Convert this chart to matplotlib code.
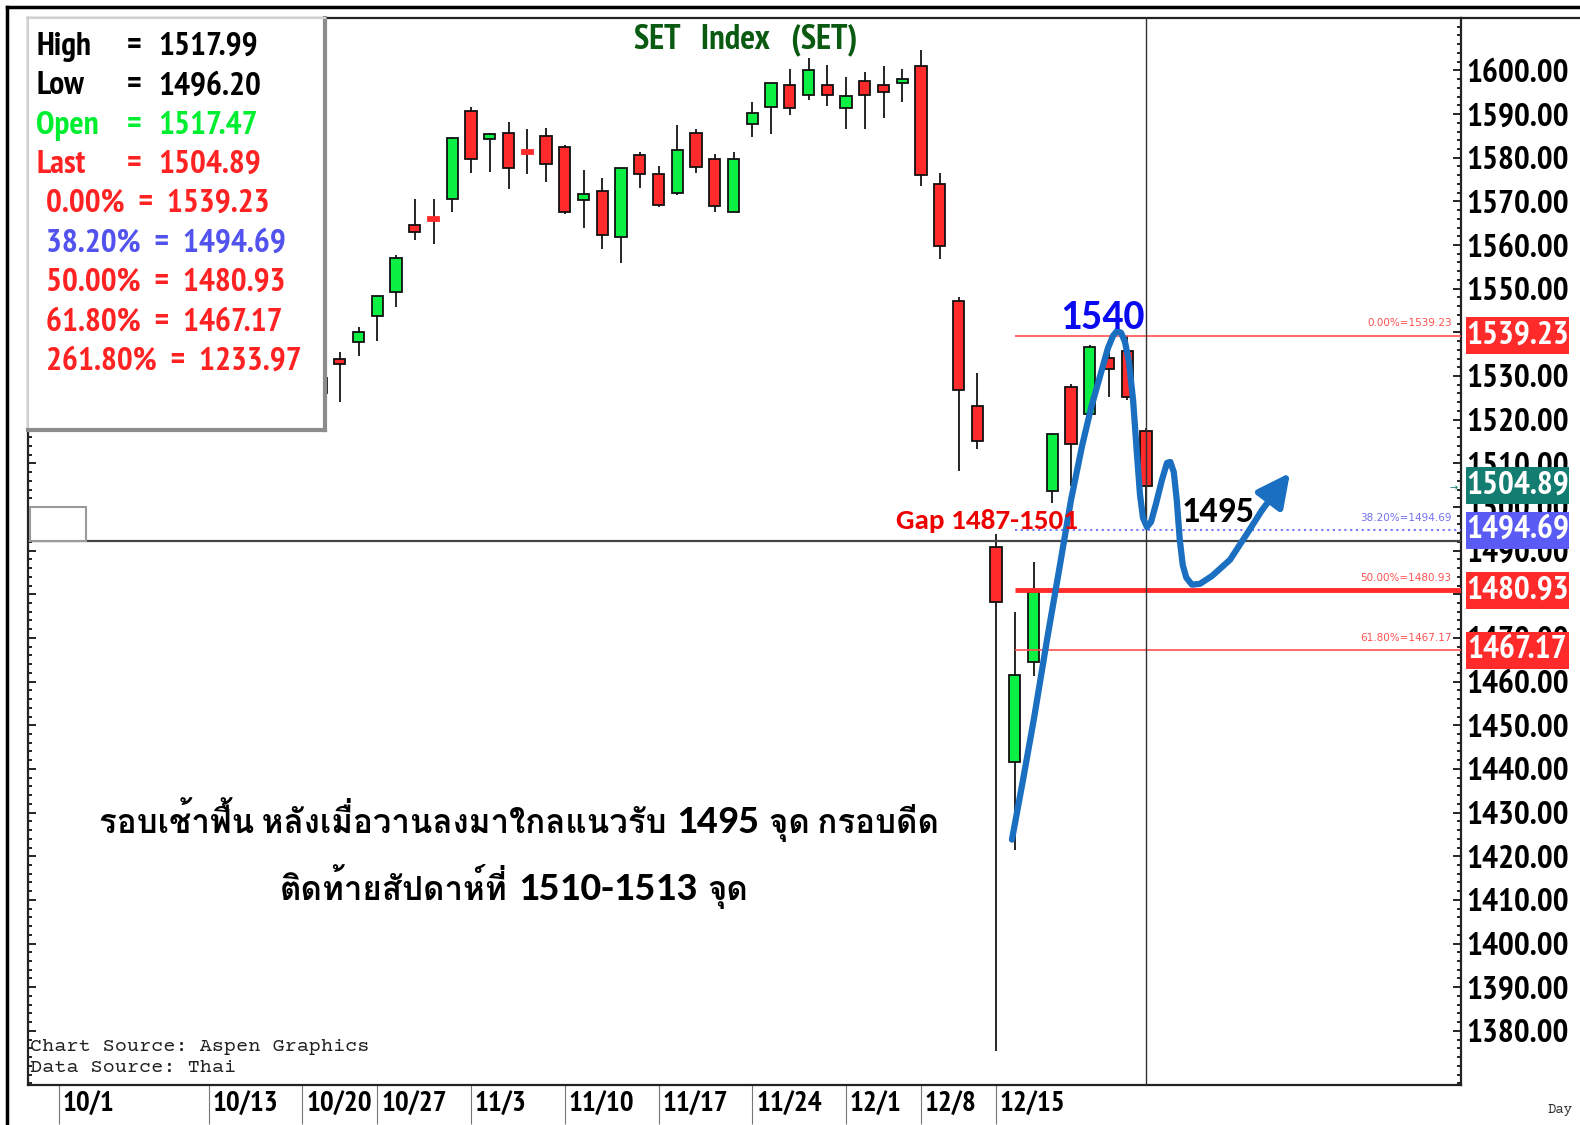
import matplotlib
matplotlib.use('Agg')
import matplotlib.pyplot as plt
import matplotlib.transforms as mtransforms
import numpy as np
from matplotlib import font_manager
from matplotlib.ft2font import FT2Font
from matplotlib.patches import Rectangle
from matplotlib.lines import Line2D

W, H = 1580, 1125

# candles, x = trading day count from 10/20
candle_x = np.arange(1, 46)
candle_open = [1529.6, 1533.9, 1537.8, 1543.8, 1549.3, 1564.6, 1566.0, 1570.6, 1590.7, 1584.3,
               1585.7, 1581.3, 1585.0, 1582.5, 1570.3, 1572.4, 1561.9, 1580.6, 1576.3, 1571.9,
               1585.7, 1579.7, 1567.6, 1587.7, 1591.6, 1596.7, 1594.4, 1596.7, 1591.4, 1597.6,
               1596.7, 1597.1, 1601.0, 1574.0, 1547.2, 1523.2, 1490.9, 1441.5, 1464.5, 1503.6,
               1527.4, 1521.3, 1534.1, 1535.8, 1517.47]
candle_high = [1531.0, 1535.5, 1541.3, 1548.4, 1557.7, 1570.6, 1570.6, 1584.8, 1591.6, 1585.7,
               1588.2, 1586.6, 1586.8, 1582.9, 1577.2, 1575.4, 1577.7, 1581.3, 1578.1, 1587.5,
               1586.6, 1580.9, 1581.3, 1592.8, 1597.1, 1600.3, 1602.9, 1601.3, 1598.5, 1599.7,
               1601.0, 1600.3, 1604.7, 1576.5, 1548.1, 1530.8, 1493.8, 1476.0, 1487.3, 1517.0,
               1528.2, 1537.0, 1536.7, 1539.23, 1517.99]
candle_low = [1524.0, 1524.1, 1534.6, 1538.0, 1545.8, 1561.2, 1560.3, 1567.6, 1576.5, 1576.8,
              1572.9, 1576.3, 1574.5, 1567.1, 1563.9, 1559.1, 1555.9, 1573.1, 1568.7, 1571.5,
              1576.5, 1567.6, 1567.6, 1584.8, 1585.5, 1589.8, 1593.2, 1591.9, 1586.6, 1586.6,
              1589.1, 1592.8, 1573.5, 1556.8, 1508.2, 1513.2, 1375.5, 1421.4, 1461.3, 1500.9,
              1504.8, 1520.8, 1525.3, 1524.5, 1496.20]
candle_close = [1526.1, 1532.8, 1540.1, 1548.4, 1557.1, 1563.0, 1566.0, 1584.5, 1579.7, 1585.5,
                1577.7, 1581.3, 1578.6, 1567.6, 1571.7, 1562.3, 1577.7, 1576.3, 1569.2, 1581.8,
                1577.9, 1569.0, 1579.7, 1590.3, 1597.1, 1591.4, 1600.1, 1594.4, 1594.2, 1594.4,
                1595.1, 1598.1, 1576.1, 1559.8, 1526.8, 1515.0, 1478.3, 1461.6, 1480.5, 1516.7,
                1514.4, 1536.7, 1531.6, 1525.1, 1504.89]

tick_pos = [-13, -5, 0, 4, 9, 14, 19, 24, 29, 33, 37]
tick_labels = ['10/1', '10/13', '10/20', '10/27', '11/3', '11/10', '11/17', '11/24', '12/1', '12/8', '12/15']

fib_pct = ['0.00%', '38.20%', '50.00%', '61.80%', '261.80%']
fib_val = [1539.23, 1494.69, 1480.93, 1467.17, 1233.97]
last_price = 1504.89
crosshair_price = 1492.3
crosshair_x = 45

# hand drawn scenario path (x in trading days, y in index points)
curve_x = [37.85, 38.44, 39.03, 39.72, 40.41, 41.00, 41.59, 42.07, 42.55, 42.97, 43.24, 43.45,
           43.67, 43.88, 44.09, 44.31, 44.52, 44.68, 44.84, 45.05, 45.27, 45.53, 45.85, 46.12,
           46.30, 46.48, 46.64, 46.80, 46.96, 47.15, 47.45, 47.88, 48.52, 49.48, 50.39, 51.19]
curve_y = [1423.8, 1437.5, 1451.7, 1469.6, 1486.7, 1501.6, 1514.0, 1522.7, 1530.0, 1536.4, 1539.2, 1540.3,
           1539.9, 1537.8, 1533.2, 1524.5, 1511.9, 1502.8, 1497.5, 1495.4, 1496.6, 1500.7, 1506.2, 1510.1,
           1510.3, 1508.0, 1501.6, 1492.5, 1486.7, 1483.8, 1482.2, 1482.4, 1484.2, 1487.9, 1493.9, 1499.3]
arrow_tip = (52.68, 1507.8)

# comment text, split into runs (text, is_number)
comment_1 = [('รอบเช้าฟื้น หลังเมื่อวานลงมาใกลแนวรับ', False), ('1495', True), ('จุด กรอบดีด', False)]
comment_2 = [('ติดท้ายสัปดาห์ที่', False), ('1510-1513', True), ('จุด', False)]

GREEN = '#0cf043'
RED = '#ff2a2a'


def has_bold(name):
    for f in font_manager.fontManager.ttflist:
        if f.name == name:
            w = f.weight if isinstance(f.weight, int) else font_manager.weight_dict.get(f.weight, 400)
            if w >= 700 and f.style == 'normal':
                return True
    return False


def pick_bold(cands):
    for name in cands:
        if has_bold(name):
            return name
    return 'DejaVu Sans'


def find_thai_font():
    found = []
    for f in font_manager.fontManager.ttflist:
        try:
            if FT2Font(f.fname).get_char_index(ord('ก')):
                found.append(f)
        except Exception:
            pass
    for f in found:
        if f.weight in ('bold', 700, 'heavy'):
            return f.name
    return found[0].name if found else 'DejaVu Sans'


NARROW = [pick_bold(['Liberation Sans Narrow', 'Arial Narrow', 'PT Sans Narrow', 'Roboto Condensed',
                     'Archivo Narrow', 'Barlow Semi Condensed', 'Fira Sans Condensed',
                     'IBM Plex Sans Condensed', 'Asap Condensed']), 'DejaVu Sans']
CALIBRI = ['Carlito', 'Open Sans', 'DejaVu Sans']
# Loma keeps the stacked thai tone marks readable without text shaping
THAI = ['Carlito', 'Open Sans', 'Loma', 'Noto Sans Thai Looped', find_thai_font(), 'DejaVu Sans']
MONO = ['Courier Prime', 'Liberation Mono', 'DejaVu Sans Mono']


def fx(x):
    return x / W


def fy(y):
    return 1 - y / H


fig = plt.figure(figsize=(W / 100, H / 100), dpi=100)
ax = fig.add_axes([fx(28), fy(1085), fx(1461 - 28), (1085 - 18) / H])
ax.set_xlim(-14.63, 61.8)
ax.set_ylim(1367.6, 1612.0)

# candles
o = np.array(candle_open)
c = np.array(candle_close)
colors = np.where(c > o, GREEN, RED)
body_h = np.abs(c - o)
doji = body_h < 0.3
ax.vlines(candle_x, candle_low, candle_high, color='black', lw=1.2, zorder=2)
ax.bar(candle_x, np.where(doji, 0.8, body_h), width=0.6,
       bottom=np.where(doji, o - 0.4, np.minimum(o, c)),
       color=colors, edgecolor=np.where(doji, RED, '#111111'), lw=1.3, zorder=3)

# fibonacci lines
for pct, val in zip(fib_pct[:4], fib_val[:4]):
    if pct == '38.20%':
        ax.hlines(val, 38.0, 61.8, color='#6a6aff', lw=1.3, linestyles=(0, (1.2, 2)), zorder=4)
        tcol = '#7070f0'
    elif pct == '50.00%':
        ax.hlines(val, 38.0, 61.8, color=RED, lw=3.5, zorder=4)
        tcol = '#ff5050'
    else:
        ax.hlines(val, 38.0, 61.8, color='#ff5050', lw=1.2, zorder=4)
        tcol = '#ff5050'
    ax.text(61.3, val + 2.8, f'{pct}={val:.2f}', ha='right', va='center', fontsize=7.5,
            color=tcol, zorder=4)

# crosshair
ax.axhline(crosshair_price, color='#444444', lw=1.6, zorder=4)
ax.axvline(crosshair_x, color='#333333', lw=1.0, zorder=4)
ax.add_patch(Rectangle((fx(30), fy(541)), fx(56), (541 - 507) / H, transform=fig.transFigure,
                       facecolor='white', edgecolor='#9a9a9a', lw=1.5, clip_on=False, zorder=5))

# axes styling
for s in ax.spines.values():
    s.set_color('#222222')
    s.set_linewidth(1.6)
ax.yaxis.tick_right()
ax.set_yticks(np.arange(1380, 1601, 10))
ax.set_yticks(np.arange(1368, 1612, 2), minor=True)
ax.set_yticklabels([f'{v:.2f}' for v in np.arange(1380, 1601, 10)],
                   fontfamily=NARROW, fontweight='bold', fontsize=24)
ax.tick_params(axis='y', which='both', direction='in', left=True, right=True, width=1.2, pad=4)
ax.tick_params(axis='y', which='major', length=6)
ax.tick_params(axis='y', which='minor', length=3)
ax.set_xticks(tick_pos)
ax.tick_params(axis='x', direction='out', length=28, width=0.8, color='#777777', labelbottom=False)
xtrans = mtransforms.blended_transform_factory(ax.transData, ax.transAxes)
for p, lab in zip(tick_pos, tick_labels):
    ax.text(p + 0.2, -0.0175, lab, transform=xtrans, ha='left', va='center',
            fontfamily=NARROW, fontweight='bold', fontsize=21, clip_on=False)

# price boxes on the axis
ytrans = mtransforms.blended_transform_factory(fig.transFigure, ax.transData)
boxes = [(fib_val[0], RED), (last_price, '#127d70'), (fib_val[1], '#5a5af5'),
         (fib_val[2], RED), (fib_val[3], RED)]
for val, col in boxes:
    ax.add_patch(Rectangle((fx(1466), val - 4.25), fx(103), 8.5, transform=ytrans,
                           facecolor=col, edgecolor='none', clip_on=False, zorder=5))
    ax.text(fx(1517.5), val, f'{val:.2f}', transform=ytrans, ha='center', va='center',
            color='white', fontfamily=NARROW, fontweight='bold', fontsize=24,
            clip_on=False, zorder=6)
ax.text(fx(1454), last_price - 0.5, '→', transform=ytrans, ha='center', va='center',
        color='#127d70', fontsize=7, clip_on=False)

# scenario path
ax.plot(curve_x, curve_y, color='#1a6fc0', lw=4.5, solid_capstyle='round',
        solid_joinstyle='round', zorder=7)
ax.annotate('', xy=arrow_tip, xytext=(curve_x[-1], curve_y[-1]),
            arrowprops=dict(arrowstyle='-|>,head_length=2.0,head_width=1.0', color='#1a6fc0',
                            lw=4.5, shrinkA=0, shrinkB=0), zorder=7)

ax.text(42.7, 1543.5, '1540', color='#0a0af0', fontsize=30, fontweight='bold',
        family=CALIBRI, ha='center', va='center', zorder=8)
ax.text(48.85, 1498.9, '1495', color='black', fontsize=26, fontweight='bold',
        family=CALIBRI, ha='center', va='center', zorder=8)
ax.text(36.5, 1496.8, 'Gap 1487-1501', color='#ee0000', fontsize=21, fontweight='bold',
        family=CALIBRI, ha='center', va='center', zorder=8)


def draw_runs(runs, xc, ybase, gap=10):
    # thai text with bigger numbers, laid out left to right and centred on xc
    renderer = fig.canvas.get_renderer()
    texts = []
    for s, is_num in runs:
        texts.append(fig.text(0, fy(ybase), s, fontsize=29.5 if is_num else 23.8,
                              fontweight='bold', family=THAI, ha='left', va='baseline',
                              color='black'))
    widths = [t.get_window_extent(renderer).width for t in texts]
    x = xc - (sum(widths) + gap * (len(widths) - 1)) / 2
    for t, w in zip(texts, widths):
        t.set_x(fx(x))
        x += w + gap


draw_runs(comment_1, 519, 833)
draw_runs(comment_2, 514, 900)

# info box
box = fig.add_axes([fx(28), fy(430), fx(324.5 - 28), (430 - 18) / H])
box.set_xticks([])
box.set_yticks([])
box.set_facecolor('white')
for side in ('left', 'top'):
    box.spines[side].set_color('#d0d0d0')
    box.spines[side].set_linewidth(1.5)
for side in ('right', 'bottom'):
    box.spines[side].set_color('#8c8c8c')
    box.spines[side].set_linewidth(3)

rows = [('High', 'black', 1517.99), ('Low', 'black', 1496.20),
        ('Open', '#00ee30', 1517.47), ('Last', '#ff2222', 1504.89)]
row_y = 47
for name, col, val in rows:
    for xp, s in ((36, name), (127, '='), (158, f'{val:.2f}')):
        fig.text(fx(xp), fy(row_y), s, color=col, fontfamily=NARROW, fontweight='bold',
                 fontsize=24, ha='left', va='center')
    row_y += 39.3
for pct, val in zip(fib_pct, fib_val):
    col = '#5252ee' if pct == '38.20%' else '#ff2222'
    fig.text(fx(46), fy(row_y), f'{pct}  =  {val:.2f}', color=col, fontfamily=NARROW,
             fontweight='bold', fontsize=24, ha='left', va='center')
    row_y += 39.3

fig.text(fx(746), fy(40), 'SET   Index   (SET)', color='#0a5a12', fontfamily=NARROW,
         fontweight='bold', fontsize=25, ha='center', va='center')
fig.text(fx(30), fy(1047), 'Chart Source: Aspen Graphics', color='#222222',
         family=MONO, fontsize=14.5, ha='left', va='center')
fig.text(fx(30), fy(1068), 'Data Source: Thai', color='#222222',
         family=MONO, fontsize=14.5, ha='left', va='center')
fig.text(fx(1560), fy(1110), 'Day', color='#333333', family=MONO,
         fontsize=10, ha='center', va='center')

# outer frame
fig.add_artist(Line2D([fx(7), 1], [fy(7), fy(7)], color='black', lw=2.5))
fig.add_artist(Line2D([fx(7), fx(7)], [fy(7), 0], color='black', lw=2.5))
fig.add_artist(Line2D([fx(1461), 1], [fy(18), fy(18)], color='#222222', lw=1.6))

fig.savefig('out.png', dpi=100)
